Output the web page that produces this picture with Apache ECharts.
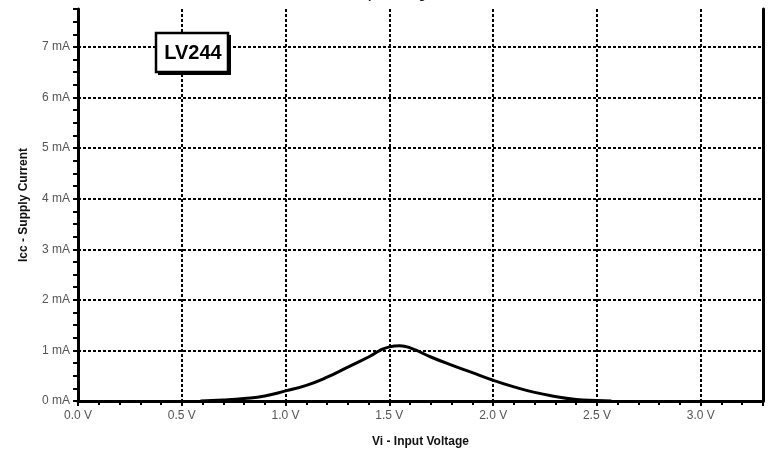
<!DOCTYPE html>
<html>
<head>
<meta charset="utf-8">
<script src="https://cdn.jsdelivr.net/npm/echarts@6/dist/echarts.min.js"></script>
<style>html,body{margin:0;padding:0;background:#fff;}#c{width:768px;height:450px;}</style>
</head>
<body>
<div id="c"></div>
<script>
const voltages = [0.59, 0.7, 0.8, 0.9, 1.0, 1.1, 1.2, 1.3, 1.4, 1.5, 1.55, 1.6, 1.7, 1.8, 1.9, 2.0, 2.1, 2.2, 2.3, 2.4, 2.5, 2.57];
const currents = [0.0, 0.02, 0.05, 0.1, 0.2, 0.31, 0.47, 0.67, 0.87, 1.07, 1.09, 1.05, 0.87, 0.71, 0.56, 0.41, 0.28, 0.17, 0.09, 0.03, 0.01, 0.0];
const xTitle = 'Vi - Input Voltage';
const yTitle = 'Icc - Supply Current';
const deviceLabel = 'LV244';

const chart = echarts.init(document.getElementById('c'));
const font = 'Liberation Sans, Arial, sans-serif';
chart.setOption({
  animation: false,
  backgroundColor: '#fff',
  grid: { left: 78, right: 5, top: 9, bottom: 49, containLabel: false, outerBoundsMode: 'none' },
  title: {
    text: xTitle, left: 'center', top: -11, padding: 0,
    textStyle: { fontFamily: font, fontSize: 12, fontWeight: 'bold', color: '#111' }
  },
  xAxis: {
    type: 'value', min: 0, max: 3.3, interval: 0.5,
    name: xTitle, nameLocation: 'middle', nameGap: 35,
    nameTextStyle: { fontFamily: font, fontSize: 12, fontWeight: 'bold', color: '#111' },
    axisLine: { lineStyle: { color: '#000', width: 3 } },
    axisTick: { length: 5, lineStyle: { color: '#000', width: 2 } },
    minorTick: { show: true, splitNumber: 5, length: 4, lineStyle: { color: '#000', width: 2 } },
    axisLabel: { showMaxLabel: false, margin: 9, fontFamily: font, fontSize: 12, color: '#555',
      formatter: v => v.toFixed(1) + ' V' },
    splitLine: { show: true, showMinLine: false, showMaxLine: false, lineStyle: { color: '#000', width: 2, type: [3, 2] } }
  },
  yAxis: [{
    type: 'value', min: 0, max: 7.75, interval: 1,
    name: yTitle, nameLocation: 'middle', nameGap: 48, nameRotate: 90,
    nameTextStyle: { fontFamily: font, fontSize: 12, fontWeight: 'bold', color: '#111' },
    axisLine: { show: true, lineStyle: { color: '#000', width: 3 } },
    axisTick: { show: true, length: 5, lineStyle: { color: '#000', width: 2 } },
    minorTick: { show: true, splitNumber: 4, length: 5, lineStyle: { color: '#000', width: 2 } },
    axisLabel: { showMaxLabel: false, margin: 8, fontFamily: font, fontSize: 12, color: '#555',
      formatter: v => v + ' mA' },
    splitLine: { show: true, showMinLine: false, showMaxLine: false, lineStyle: { color: '#000', width: 2, type: [3, 2] } }
  }, {
    type: 'value', min: 0, max: 7.75, position: 'right',
    axisLine: { show: true, lineStyle: { color: '#000', width: 3 } },
    axisTick: { show: false }, axisLabel: { show: false }, splitLine: { show: false }
  }],
  series: [{
    type: 'line', smooth: 0.5, showSymbol: false,
    lineStyle: { color: '#000', width: 3 },
    data: voltages.map((v, i) => [v, currents[i]])
  }],
  graphic: [{
    type: 'rect', x: 158, y: 35, z: 100, shape: { width: 73, height: 40 },
    style: { fill: '#000' }
  }, {
    type: 'rect', x: 156, y: 33, z: 101, shape: { width: 72, height: 39 },
    style: { fill: '#fff', stroke: '#000', lineWidth: 2.5 }
  }, {
    type: 'text', x: 193, y: 53, z: 102,
    style: { text: deviceLabel, fontFamily: font, fontSize: 20, fontWeight: 'bold', fill: '#000',
      textAlign: 'center', textVerticalAlign: 'middle' }
  }]
});
</script>
</body>
</html>
